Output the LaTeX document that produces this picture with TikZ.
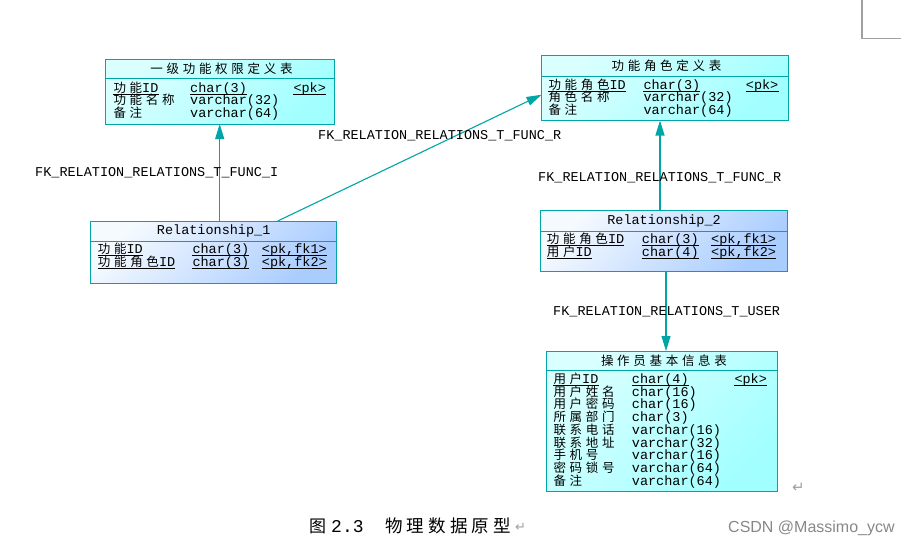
\documentclass[tikz,border=0pt]{standalone}
\usepackage{fontspec}
\setmonofont{Liberation Mono}
\newfontfamily\cjkf[LetterSpace=29.6]{Noto Sans CJK SC}
\newfontfamily\capf[LetterSpace=24]{Noto Sans CJK SC}
\newfontfamily\dvs{DejaVu Sans}
\newfontfamily\lsans{Liberation Sans}
\usetikzlibrary{arrows.meta}
\definecolor{tealc}{RGB}{0,166,166}
\definecolor{entA}{RGB}{218,255,255}
\definecolor{entB}{RGB}{162,255,255}
\definecolor{relA}{RGB}{245,250,255}
\definecolor{relB}{RGB}{170,205,255}
\definecolor{greyc}{RGB}{160,160,160}
\newcommand\cn[1]{{\fontsize{12.5}{13}\selectfont\cjkf #1}}
\newcommand\tcell[4]{\node[txt] (#1) at (#2,#3) {#4};}
\newcommand\ucell[4]{\node[txt] (#1) at (#2,#3) {#4};
  \draw[ul] ([yshift=-2.2pt]#1.base west) -- ([yshift=-2.2pt]#1.base east);}
\tikzset{
  ent/.style={draw=tealc, line width=1pt, anchor=north west, inner sep=0pt, outer sep=0pt,
    top color=entA, bottom color=entB, shading angle=45},
  rel/.style={draw=tealc, line width=1pt, anchor=north west, inner sep=0pt, outer sep=0pt,
    top color=relA, bottom color=relB, shading angle=45},
  sepline/.style={draw=tealc, line width=1pt},
  txt/.style={anchor=base west, inner sep=0pt, font=\fontsize{13.5}{14}\selectfont\ttfamily},
  hd/.style={anchor=base, inner sep=0pt, font=\fontsize{13.5}{14}\selectfont\ttfamily},
  ul/.style={line width=0.7pt, black},
  fk/.style={draw=tealc, line width=1.1pt, -{Triangle[length=15pt,width=9pt]}},
  greyline/.style={draw=greyc, line width=1.1pt},
}
\begin{document}
\begin{tikzpicture}[x=1pt,y=-1pt]
\useasboundingbox (0,0) rectangle (912,546);
\fill[white] (0,0) rectangle (912,546);

% ---------- Table 1
\node[ent, minimum width=229pt, minimum height=65pt] (t1) at (105,59) {};
\draw[sepline] (t1.north west) ++(0,19) -- ++(229,0);
\node[hd] (t1h) at (221.5,73) {\cn{一级功能权限定义表}};
\ucell{t1a1}{113.3}{92}{\cn{功能}ID}
\ucell{t1b1}{190}{92}{char(3)}
\ucell{t1c1}{293.3}{92}{<pk>}
\tcell{t1a2}{113.3}{104.5}{\cn{功能名称}}
\tcell{t1b2}{190}{104.5}{varchar(32)}
\tcell{t1a3}{113.3}{117}{\cn{备注}}
\tcell{t1b3}{190}{117}{varchar(64)}

% ---------- Table 2
\node[ent, minimum width=246.5pt, minimum height=65.5pt] (t2) at (541.5,55) {};
\draw[sepline] (t2.north west) ++(0,21) -- ++(246.5,0);
\node[hd] (t2h) at (666.5,70) {\cn{功能角色定义表}};
\ucell{t2a1}{548.3}{89}{\cn{功能角色}ID}
\ucell{t2b1}{643.3}{89}{char(3)}
\ucell{t2c1}{745.7}{89}{<pk>}
\tcell{t2a2}{548.3}{101.5}{\cn{角色名称}}
\tcell{t2b2}{643.3}{101.5}{varchar(32)}
\tcell{t2a3}{548.3}{114}{\cn{备注}}
\tcell{t2b3}{643.3}{114}{varchar(64)}

% ---------- Relationship 1
\node[rel, minimum width=246pt, minimum height=62.3pt] (r1) at (90.7,221) {};
\draw[sepline] (r1.north west) ++(0,20) -- ++(246,0);
\node[hd] (r1h) at (213.7,234.5) {Relationship\_1};
\ucell{r1a1}{97.7}{253.5}{\cn{功能}ID}
\ucell{r1b1}{192.3}{253.5}{char(3)}
\ucell{r1c1}{261.7}{253.5}{<pk,fk1>}
\ucell{r1a2}{97.7}{266}{\cn{功能角色}ID}
\ucell{r1b2}{192.3}{266}{char(3)}
\ucell{r1c2}{261.7}{266}{<pk,fk2>}

% ---------- Relationship 2
\node[rel, minimum width=246.6pt, minimum height=60.3pt] (r2) at (540.7,210.7) {};
\draw[sepline] (r2.north west) ++(0,20.3) -- ++(246.6,0);
\node[hd] (r2h) at (664,224) {Relationship\_2};
\ucell{r2a1}{546.7}{243.5}{\cn{功能角色}ID}
\ucell{r2b1}{641.7}{243.5}{char(3)}
\ucell{r2c1}{711}{243.5}{<pk,fk1>}
\ucell{r2a2}{546.7}{256.5}{\cn{用户}ID}
\ucell{r2b2}{641.7}{256.5}{char(4)}
\ucell{r2c2}{711}{256.5}{<pk,fk2>}

% ---------- Table 5
\node[ent, minimum width=230.6pt, minimum height=140.7pt] (t5) at (546.7,351) {};
\draw[sepline] (t5.north west) ++(0,19) -- ++(230.6,0);
\node[hd] (t5h) at (664,365) {\cn{操作员基本信息表}};
\ucell{t5a1}{553.3}{383.5}{\cn{用户}ID}
\ucell{t5b1}{631.7}{383.5}{char(4)}
\ucell{t5c1}{734.3}{383.5}{<pk>}
\tcell{t5a2}{553.3}{396.2}{\cn{用户姓名}}
\tcell{t5b2}{631.7}{396.2}{char(16)}
\tcell{t5a3}{553.3}{408.9}{\cn{用户密码}}
\tcell{t5b3}{631.7}{408.9}{char(16)}
\tcell{t5a4}{553.3}{421.6}{\cn{所属部门}}
\tcell{t5b4}{631.7}{421.6}{char(3)}
\tcell{t5a5}{553.3}{434.3}{\cn{联系电话}}
\tcell{t5b5}{631.7}{434.3}{varchar(16)}
\tcell{t5a6}{553.3}{447}{\cn{联系地址}}
\tcell{t5b6}{631.7}{447}{varchar(32)}
\tcell{t5a7}{553.3}{459.7}{\cn{手机号}}
\tcell{t5b7}{631.7}{459.7}{varchar(16)}
\tcell{t5a8}{553.3}{472.4}{\cn{密码锁号}}
\tcell{t5b8}{631.7}{472.4}{varchar(64)}
\tcell{t5a9}{553.3}{485.1}{\cn{备注}}
\tcell{t5b9}{631.7}{485.1}{varchar(64)}

% ---------- Connectors
\coordinate (a1) at ([xshift=6pt]r1.north);
\draw[fk] (a1) -- (a1 |- t1.south);
\draw[fk] ([xshift=64pt]r1.north) -- ([yshift=-7pt]t2.west);
\coordinate (a3) at ([xshift=-4pt]r2.north);
\draw[fk] (a3) -- (a3 |- t2.south);
\coordinate (a4) at ([xshift=2pt]r2.south);
\draw[fk] (a4) -- (a4 |- t5.north);

% ---------- Connector labels
\node[txt] (l1) at (35,176) {FK\_RELATION\_RELATIONS\_T\_FUNC\_I};
\node[txt] (l2) at (318,139) {FK\_RELATION\_RELATIONS\_T\_FUNC\_R};
\node[txt] (l3) at (538,181) {FK\_RELATION\_RELATIONS\_T\_FUNC\_R};
\node[txt] (l4) at (553,315) {FK\_RELATION\_RELATIONS\_T\_USER};

% ---------- Page marks
\draw[greyline] (862,0) -- (862,38.3) -- (901,38.3);
\node[anchor=base west, inner sep=0pt, text=greyc, font=\fontsize{15}{16}\selectfont\dvs] (ret1) at (792,492) {↵};

% ---------- Caption and watermark
\node[anchor=base west, inner sep=0pt, font=\fontsize{17}{20}\selectfont\capf] (cap1) at (309,532) {图};
\node[anchor=base west, inner sep=0pt, font=\fontsize{18}{20}\selectfont\ttfamily] (cap2) at (331,532) {2.3};
\node[anchor=base west, inner sep=0pt, font=\fontsize{17.5}{20}\selectfont\capf] (cap3) at (385,532) {物理数据原型};
\node[anchor=base west, inner sep=0pt, text=greyc, font=\fontsize{13}{14}\selectfont\dvs] (cap4) at (515,531) {↵};
\node[anchor=base west, inner sep=0pt, text=greyc!85!black, font=\fontsize{16}{16}\selectfont\lsans] (wm) at (728,532) {CSDN @Massimo\_ycw};
\end{tikzpicture}
\end{document}
